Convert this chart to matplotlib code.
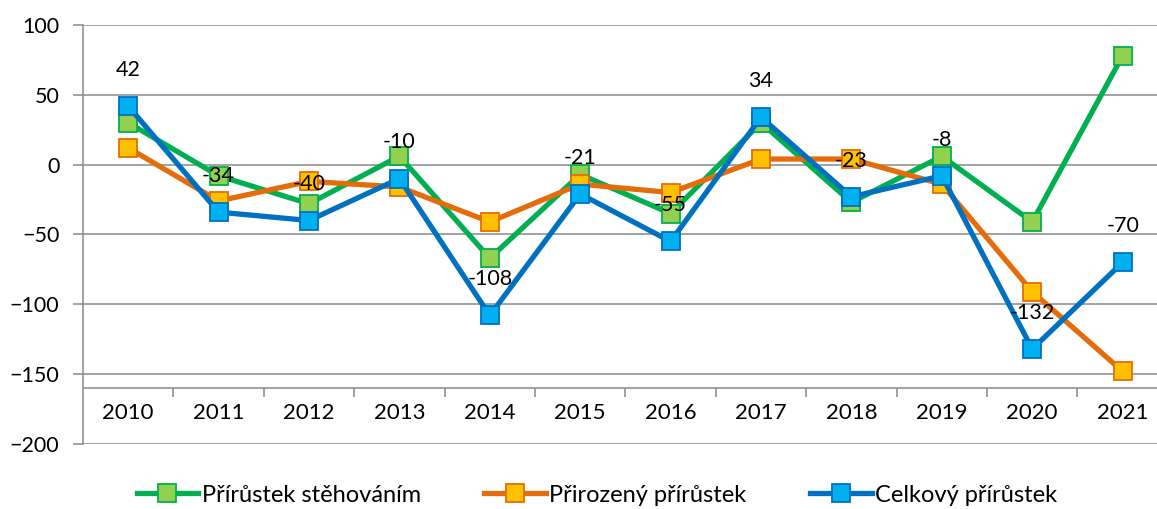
import matplotlib
matplotlib.use("Agg")
import matplotlib.pyplot as plt
import numpy as np

plt.rcParams['font.family'] = ['Lato', 'DejaVu Sans']

# data
years = ['2010', '2011', '2012', '2013', '2014', '2015', '2016', '2017', '2018', '2019', '2020', '2021']
migration = [30, -8, -28, 6, -67, -7, -35, 30, -27, 6, -41, 78]
natural = [12, -26, -12, -16, -41, -14, -20, 4, 4, -14, -91, -148]
total = [42, -34, -40, -10, -108, -21, -55, 34, -23, -8, -132, -70]
labels = ['Přírůstek stěhováním', 'Přirozený přírůstek', 'Celkový přírůstek']

fig = plt.figure(figsize=(11.57, 5.09), dpi=100)
ax = fig.add_axes([0.0717, 0.1277, 0.9283, 0.8233])

x = np.arange(len(years))
grid_c = '#898989'

# gridlines
for v in [100, 50, 0, -50, -100, -150, -200]:
    ax.axhline(v, color=grid_c, lw=1.1, zorder=1)
# category axis
ax.axhline(-160, color=grid_c, lw=1.1, zorder=1)
ax.vlines(np.arange(0.5, len(years) - 1), -166.5, -160, color=grid_c, lw=1.1)
for i, y in enumerate(years):
    ax.text(i, -178, y, ha='center', va='center', fontsize=16)

styles = [
    (migration, '#00B050', '#92D050', '#00B050'),
    (natural, '#E46C0A', '#FFC000', '#E46C0A'),
    (total, '#0070C0', '#00B0F0', '#0070C0'),
]
handles = []
for (vals, lc, fc, ec), lab in zip(styles, labels):
    h, = ax.plot(x, vals, color=lc, lw=3.8, marker='s', markersize=12.5,
                 markerfacecolor=fc, markeredgecolor=ec, markeredgewidth=1.3,
                 label=lab, zorder=3)
    handles.append(h)

# data labels for total
for i, v in enumerate(total):
    ax.annotate(str(v), (i, v), xytext=(0, 26), textcoords='offset points',
                ha='center', va='center', fontsize=15.5, zorder=5)

ax.set_xlim(-0.5, 11.38)
ax.set_ylim(-200, 100)
ax.set_yticks([100, 50, 0, -50, -100, -150, -200])
ax.set_xticks([])
for s in ['top', 'right', 'bottom']:
    ax.spines[s].set_visible(False)
ax.spines['left'].set_color(grid_c)
ax.spines['left'].set_linewidth(1.1)
ax.tick_params(axis='y', length=7, width=1.1, color=grid_c, pad=10, labelsize=15.5)

fig.legend(handles=handles, loc='center', bbox_to_anchor=(0.516, 0.027), ncol=3,
           frameon=False, fontsize=17, handlelength=2.6, handletextpad=0.15,
           columnspacing=2.7)

fig.savefig('out.png', dpi=100)
